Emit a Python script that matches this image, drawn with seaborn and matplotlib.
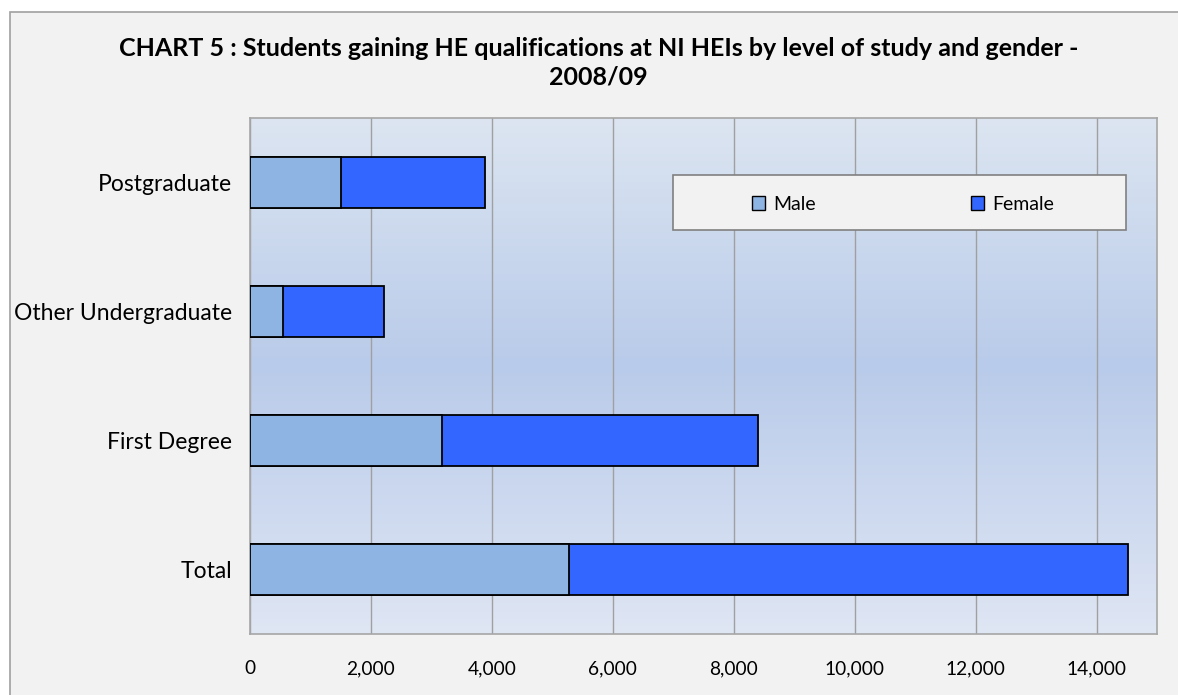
import numpy as np
import pandas as pd
import matplotlib
matplotlib.use("Agg")
import matplotlib.pyplot as plt
import seaborn as sns
from matplotlib.patches import Rectangle, Patch

categories = ["Postgraduate", "Other Undergraduate", "First Degree", "Total"]
male = [1505, 540, 3175, 5270]
female = [2385, 1670, 5230, 9250]
x_ticks = [0, 2000, 4000, 6000, 8000, 10000, 12000, 14000]
title = "CHART 5 : Students gaining HE qualifications at NI HEIs by level of study and gender -\n2008/09"

male_color = "#8eb4e3"
female_color = "#3366ff"

df = pd.DataFrame({"category": categories, "Male": male, "Female": female})
df["TotalBar"] = df["Male"] + df["Female"]

sns.set_theme(style="white")
plt.rcParams["font.family"] = ["Lato", "DejaVu Sans"]
plt.rcParams["text.color"] = "black"
plt.rcParams["xtick.labelcolor"] = "black"
plt.rcParams["ytick.labelcolor"] = "black"

W, H = 1178, 695
fig = plt.figure(figsize=(W / 100, H / 100), dpi=100)
fig.patch.set_facecolor("white")

# outer chart area border
fig.patches.append(Rectangle((10 / W, -0.05), 1.2, 1 - 12 / H + 0.05,
                             transform=fig.transFigure, facecolor="#f2f2f2",
                             edgecolor="#a0a0a0", linewidth=1.2, zorder=-10))

ax = fig.add_axes([250 / W, 1 - 634 / H, 907 / W, 516 / H])
ax.set_facecolor("none")

# gradient background
stops = np.array([0.0, 0.48, 1.0])
cols = np.array([[0xdc, 0xe5, 0xf1], [0xb9, 0xcb, 0xea], [0xdf, 0xe6, 0xf4]]) / 255.0
t = np.linspace(0, 1, 256)
grad = np.stack([np.interp(t, stops, cols[:, i]) for i in range(3)], axis=-1)[:, None, :]
ax.imshow(grad, extent=[0, 1, 0, 1], transform=ax.transAxes, aspect="auto", zorder=0, origin="upper")

sns.barplot(data=df, x="TotalBar", y="category", color=female_color, orient="h",
            width=0.4, edgecolor="black", linewidth=1.3, ax=ax, zorder=3, saturation=1)
sns.barplot(data=df, x="Male", y="category", color=male_color, orient="h",
            width=0.4, edgecolor="black", linewidth=1.3, ax=ax, zorder=4, saturation=1)

ax.set_xlim(0, 15000)
ax.set_ylim(3.5, -0.5)
ax.set_xticks(x_ticks)
ax.set_xticklabels([f"{v:,}" for v in x_ticks], fontsize=13.8, color="black")
ax.set_yticks(range(len(categories)))
ax.set_yticklabels(categories, fontsize=16.5, color="black")
ax.set_yticks(np.arange(-0.5, len(categories)), minor=True)
ax.tick_params(axis="y", which="major", length=0, pad=13)
ax.tick_params(axis="y", which="minor", length=7, color="#8c8c8c", width=1, direction="out")
ax.tick_params(axis="x", which="major", length=7, color="#8c8c8c", width=1, direction="out", pad=12)
ax.set_xlabel("")
ax.set_ylabel("")
ax.xaxis.grid(True, color="#a0a0a0", linewidth=1, zorder=1)
ax.set_axisbelow(True)
for s in ax.spines.values():
    s.set_color("#a6a6a6")
    s.set_linewidth(1.2)
    s.set_visible(True)

# legend box
ax.add_patch(Rectangle((0.4664, 0.783), 0.4994, 0.1065, transform=ax.transAxes,
                       facecolor="#f2f2f2", edgecolor="#808080", linewidth=1.2, zorder=6))
handles = [Patch(facecolor=male_color, edgecolor="black", label="Male"),
           Patch(facecolor=female_color, edgecolor="black", label="Female")]
leg = ax.legend(handles=handles, loc="center", bbox_to_anchor=(0.72, 0.833), ncol=2,
                frameon=False, fontsize=14, handlelength=0.68, handleheight=0.68,
                handletextpad=0.4, columnspacing=8.0, labelcolor="black")
leg.set_zorder(7)

fig.text(0.508, 1 - 63 / H, title, ha="center", va="center", fontsize=18,
         fontweight="bold", linespacing=1.27, color="black")

fig.savefig("out.png", dpi=100)
